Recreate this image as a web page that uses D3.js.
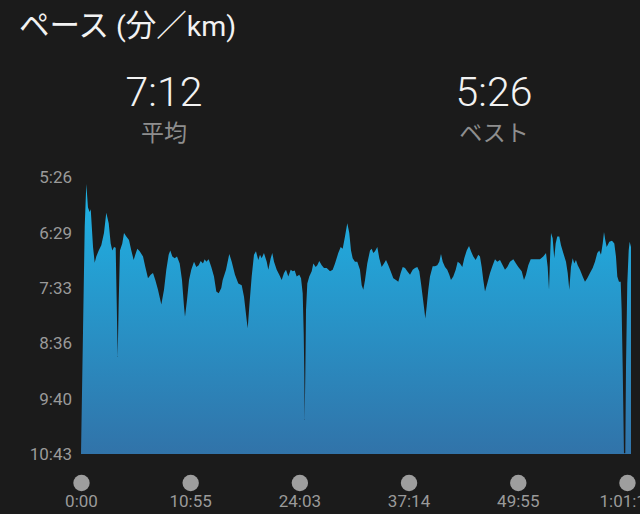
<!DOCTYPE html>
<html>
<head>
<meta charset="utf-8">
<script src="https://cdn.jsdelivr.net/npm/d3@7"></script>
<style>
  html, body { margin: 0; padding: 0; background: #1b1b1b; overflow: hidden; }
  svg { display: block; }
</style>
</head>
<body>
<script>
// ---- data ----
const titleParts = [["ペース", "cjk"], [" (", "lat"], ["分／", "cjk"], ["km)", "lat"]];
const statValues = ["7:12", "5:26"];
const statLabels = ["平均", "ベスト"];

const yTickValues = [326, 389, 453, 516, 580, 643];          // seconds per km
const yTickLabels = ["5:26", "6:29", "7:33", "8:36", "9:40", "10:43"];

const xTickValues = [0, 1.706, 3.412, 5.118, 6.825, 8.531];   // km
const xTickLabels = ["0:00", "10:55", "24:03", "37:14", "49:55", "1:01:12"];

const distanceKm = [
  0, 0.058, 0.083, 0.109, 0.136, 0.152, 0.188, 0.214, 0.239, 0.277, 0.317, 0.359, 0.395, 0.433, 0.464, 0.489,
  0.516, 0.542, 0.558, 0.573, 0.589, 0.609, 0.645, 0.672, 0.708, 0.75, 0.786, 0.823, 0.848, 0.880, 0.917, 0.969,
  1.005, 1.047, 1.089, 1.125, 1.161, 1.203, 1.255, 1.297, 1.333, 1.370, 1.395, 1.427, 1.464, 1.5, 1.542, 1.578,
  1.609, 1.625, 1.656, 1.688, 1.723, 1.766, 1.802, 1.839, 1.870, 1.906, 1.933, 1.958, 1.995, 2.036, 2.078, 2.114,
  2.152, 2.192, 2.214, 2.266, 2.317, 2.355, 2.406, 2.458, 2.511, 2.547, 2.589, 2.605, 2.630, 2.667, 2.703, 2.734,
  2.770, 2.797, 2.823, 2.859, 2.902, 2.927, 2.964, 2.989, 3.016, 3.058, 3.098, 3.136, 3.172, 3.203, 3.239, 3.277,
  3.308, 3.339, 3.370, 3.411, 3.438, 3.464, 3.480, 3.489, 3.495, 3.505, 3.516, 3.536, 3.567, 3.605, 3.630, 3.667,
  3.692, 3.723, 3.761, 3.797, 3.839, 3.891, 3.933, 3.969, 4.020, 4.058, 4.089, 4.125, 4.161, 4.192, 4.219, 4.245,
  4.281, 4.317, 4.359, 4.386, 4.411, 4.438, 4.473, 4.516, 4.542, 4.567, 4.594, 4.630, 4.661, 4.698, 4.734, 4.766,
  4.802, 4.839, 4.880, 4.922, 4.958, 4.995, 5.027, 5.063, 5.098, 5.141, 5.183, 5.219, 5.255, 5.286, 5.313, 5.339,
  5.364, 5.380, 5.402, 5.427, 5.453, 5.495, 5.531, 5.567, 5.598, 5.625, 5.652, 5.688, 5.723, 5.755, 5.781, 5.817,
  5.855, 5.886, 5.922, 5.958, 5.989, 6.027, 6.063, 6.094, 6.130, 6.167, 6.208, 6.234, 6.261, 6.286, 6.313, 6.348,
  6.391, 6.433, 6.469, 6.505, 6.547, 6.589, 6.625, 6.661, 6.703, 6.755, 6.797, 6.833, 6.886, 6.922, 6.953, 6.989,
  7.027, 7.067, 7.120, 7.172, 7.223, 7.266, 7.292, 7.313, 7.328, 7.344, 7.370, 7.395, 7.417, 7.442, 7.473, 7.5,
  7.536, 7.578, 7.605, 7.630, 7.656, 7.683, 7.708, 7.734, 7.761, 7.797, 7.839, 7.875, 7.911, 7.953, 7.995, 8.031,
  8.067, 8.098, 8.125, 8.152, 8.172, 8.192, 8.214, 8.255, 8.297, 8.333, 8.359, 8.380, 8.406, 8.433, 8.448, 8.464,
  8.484, 8.505, 8.516, 8.536, 8.558, 8.573, 8.594
];

const paceSec = [
  643, 383, 334, 361, 366, 363, 406, 424, 417, 410, 404, 390, 367, 379, 402, 410,
  406, 407, 470, 532, 470, 410, 402, 390, 394, 398, 410, 421, 415, 408, 411, 417,
  429, 442, 438, 436, 444, 455, 472, 455, 432, 415, 410, 417, 419, 417, 425, 444,
  474, 486, 467, 444, 432, 423, 429, 427, 422, 425, 420, 423, 420, 429, 440, 457,
  459, 453, 444, 432, 414, 423, 438, 448, 450, 463, 490, 499, 474, 440, 415, 411,
  421, 415, 419, 413, 423, 432, 419, 413, 423, 432, 438, 444, 436, 432, 440, 432,
  434, 433, 440, 438, 442, 459, 505, 551, 604, 551, 478, 448, 440, 434, 425, 429,
  427, 422, 427, 430, 430, 434, 432, 425, 413, 406, 408, 394, 379, 390, 410, 419,
  423, 423, 432, 450, 455, 444, 425, 410, 408, 413, 411, 406, 419, 429, 425, 421,
  427, 434, 442, 444, 446, 436, 429, 430, 434, 438, 432, 430, 429, 434, 448, 463,
  478, 488, 474, 455, 440, 428, 428, 427, 423, 414, 423, 429, 432, 438, 444, 440,
  432, 423, 425, 429, 419, 410, 405, 411, 417, 421, 415, 417, 429, 444, 457, 448,
  436, 427, 420, 423, 421, 427, 432, 429, 423, 420, 425, 429, 434, 444, 438, 427,
  420, 420, 420, 420, 417, 413, 429, 455, 421, 390, 396, 419, 402, 394, 394, 404,
  413, 423, 436, 455, 429, 419, 425, 421, 427, 432, 440, 446, 442, 436, 430, 423,
  413, 410, 415, 402, 389, 398, 406, 400, 399, 402, 417, 440, 446, 446, 478, 543,
  642, 642, 543, 448, 410, 400, 406
];

// ---- drawing ----
const W = 640, H = 514;
const svg = d3.select("body").append("svg").attr("width", W).attr("height", H);
svg.append("rect").attr("width", W).attr("height", H).attr("fill", "#1b1b1b");

const latin = "Roboto, 'Noto Sans CJK JP', sans-serif";
const cjk = "'Noto Sans CJK JP', sans-serif";

const title = svg.append("text")
  .attr("x", 19).attr("y", 36)
  .attr("fill", "#f2f2f2");
titleParts.forEach(([t, kind]) => {
  title.append("tspan")
    .style("font-family", kind === "cjk" ? cjk : latin)
    .style("font-size", kind === "cjk" ? "30.5px" : "28.5px")
    .text(t);
});

const statX = [164, 494];
statValues.forEach((v, i) => {
  svg.append("text")
    .attr("x", statX[i]).attr("y", 106)
    .attr("text-anchor", "middle")
    .attr("fill", "#f2f2f2")
    .style("font-family", latin).style("font-size", "41px").style("font-weight", 300)
    .text(v);
  svg.append("text")
    .attr("x", statX[i]).attr("y", 141)
    .attr("text-anchor", "middle")
    .attr("fill", "#8e8e8e")
    .style("font-family", cjk).style("font-size", "23px")
    .text(statLabels[i]);
});

const x = d3.scaleLinear().domain([0, 8.594]).range([81, 631]);
const y = d3.scaleLinear().domain([326, 643]).range([177, 454]);

const defs = svg.append("defs");
const grad = defs.append("linearGradient")
  .attr("id", "paceGrad").attr("gradientUnits", "userSpaceOnUse")
  .attr("x1", 0).attr("x2", 0).attr("y1", y(326)).attr("y2", y(643));
grad.append("stop").attr("offset", "0%").attr("stop-color", "#1eb5e7");
grad.append("stop").attr("offset", "100%").attr("stop-color", "#3173a9");

const data = distanceKm.map((d, i) => ({ d, p: paceSec[i] }));

const area = d3.area()
  .x(p => x(p.d))
  .y0(y(643))
  .y1(p => y(p.p))
  .curve(d3.curveLinear);

svg.append("path")
  .datum(data)
  .attr("d", area)
  .attr("fill", "url(#paceGrad)");

// y axis labels
const yAxis = d3.axisLeft(y)
  .tickValues(yTickValues)
  .tickFormat((d, i) => yTickLabels[i])
  .tickSize(0).tickPadding(0);
const gy = svg.append("g").attr("transform", "translate(72,0)").call(yAxis);
gy.select(".domain").remove();
gy.selectAll("text")
  .attr("fill", "#9a9a9a")
  .attr("dy", "0.35em")
  .style("font-family", latin).style("font-size", "17px");

// x axis: dots + labels
const xAxis = d3.axisBottom(x)
  .tickValues(xTickValues)
  .tickFormat((d, i) => xTickLabels[i])
  .tickSize(0).tickPadding(0);
const gx = svg.append("g").attr("transform", "translate(0,483)").call(xAxis);
gx.select(".domain").remove();
gx.selectAll(".tick").append("circle")
  .attr("r", 8.2).attr("cx", 0).attr("cy", 0).attr("fill", "#9e9e9e");
gx.selectAll("text")
  .attr("fill", "#9a9a9a")
  .attr("y", 23.5).attr("dy", 0)
  .style("font-family", latin).style("font-size", "17px");
</script>
</body>
</html>
